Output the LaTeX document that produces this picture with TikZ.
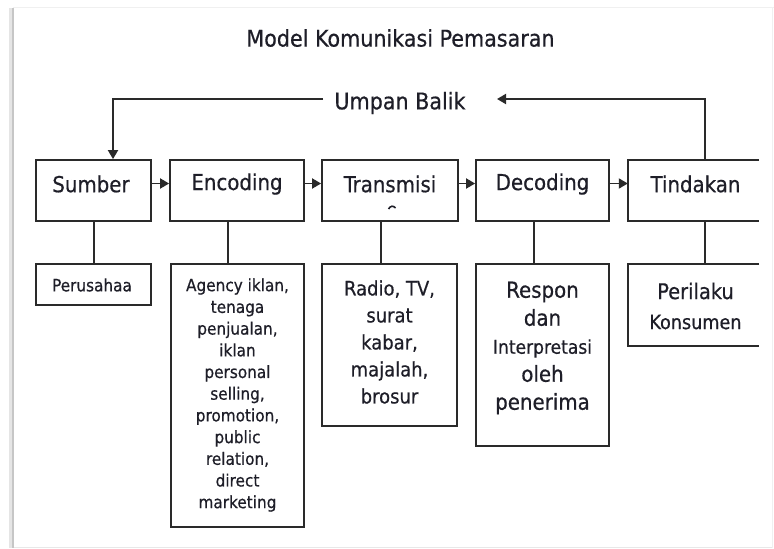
\documentclass[tikz,border=0pt]{standalone}
\usepackage{fontspec}
\setmainfont{DejaVu Sans Condensed}[FakeBold=0.5]
\usetikzlibrary{arrows.meta}
\definecolor{ink}{HTML}{2A2A2A}
\definecolor{txt}{HTML}{1E1E28}
\tikzset{
  box/.style={draw=ink, line width=1.8pt, inner sep=0pt},
  openbox/.style={draw=none, inner sep=0pt},
  lbl/.style={text=txt, inner sep=0pt, font=\fontsize{22}{26}\selectfont},
  sub/.style={text=txt, inner sep=0pt, align=center},
  conn/.style={draw=ink, line width=1.8pt},
  arr/.style={conn, -{Triangle[length=9pt,width=10pt]}},
}
\begin{document}
\begin{tikzpicture}[x=1pt,y=-1pt]
\useasboundingbox (0,0) rectangle (774,549);
% frame / shadow
\fill[white] (13,8) rectangle (772,548);
\draw[gray!12, line width=1pt] (13,7.5) -- (774,7.5);
\draw[gray!12, line width=1pt] (772.5,8) -- (772.5,548);
\draw[gray!18, line width=1pt] (13,547.5) -- (772,547.5);
\draw[gray!20, line width=4pt] (10.5,8) -- (10.5,548);
\draw[gray!45, line width=2pt] (12.5,8) -- (12.5,548);

% title
\node[lbl, font=\fontsize{23}{27}\selectfont] (title) at (400.5,38) {Model Komunikasi Pemasaran};

% main boxes
\node[box, minimum width=115, minimum height=61] (sumber) at (93.5,190.5) {};
\node[box, minimum width=134, minimum height=61] (encoding) at (237,190.5) {};
\node[box, minimum width=136, minimum height=61] (transmisi) at (390,190.5) {};
\node[box, minimum width=133, minimum height=61] (decoding) at (542.5,190.5) {};
\node[openbox, minimum width=131, minimum height=61] (tindakan) at (693.5,190.5) {};
\draw[conn] (tindakan.north east) -- (tindakan.north west) -- (tindakan.south west) -- (tindakan.south east);

\node[lbl] (sumberT) at (91,184) {Sumber};
\node[lbl] (encodingT) at (237,184) {Encoding};
\node[lbl] (transmisiT) at (390,184) {Transmisi};
\node[lbl] (decodingT) at (542.5,184) {Decoding};
\node[lbl] (tindakanT) at (695.5,184) {Tindakan};
\draw[txt, line width=1.6pt] (388.5,209) .. controls (390.5,205.5) and (393.5,205.5) .. (395.5,208);

% arrows between boxes
\draw[arr] ([yshift=7pt]sumber.east) -- ([yshift=7pt]encoding.west);
\draw[arr] ([yshift=7pt]encoding.east) -- ([yshift=7pt]transmisi.west);
\draw[arr] ([yshift=7pt]transmisi.east) -- ([yshift=7pt]decoding.west);
\draw[arr] ([yshift=7pt]decoding.east) -- ([yshift=7pt]tindakan.west);

% feedback
\node[lbl, font=\fontsize{23}{27}\selectfont] (umpan) at (400,103) {Umpan Balik};
\coordinate (fbR) at (705,99);
\coordinate (fbTip) at (497,99);
\coordinate (fbStart) at (323,99);
\coordinate (fbL) at (113,99);
\draw[arr] (tindakan.north -| fbR) -- (fbR) -- (fbTip);
\draw[arr] (fbStart) -- (fbL) -- (sumber.north -| fbL);

% sub boxes
\node[box, minimum width=115, minimum height=41] (perusahaan) at (93.5,284.5) {};
\node[box, minimum width=133, minimum height=263] (agency) at (237.5,395.5) {};
\node[box, minimum width=135, minimum height=162] (media) at (389.5,345) {};
\node[box, minimum width=133, minimum height=182] (respon) at (542.5,355) {};
\node[openbox, minimum width=131, minimum height=82] (perilaku) at (693.5,305) {};
\draw[conn] (perilaku.north east) -- (perilaku.north west) -- (perilaku.south west) -- (perilaku.south east);

\node[sub, font=\fontsize{17}{21.7}\selectfont] (perusahaanT) at (92,285) {Perusahaa};
\node[sub, font=\fontsize{17}{21.7}\selectfont] (agencyT) at (237.5,395) {Agency iklan,\\tenaga\\penjualan,\\iklan\\personal\\selling,\\promotion,\\public\\relation,\\direct\\marketing};
\node[sub, font=\fontsize{20}{27}\selectfont] (mediaT) at (389.5,342) {Radio, TV,\\surat\\kabar,\\majalah,\\brosur};
\node[sub, font=\fontsize{22}{28}\selectfont] (responT) at (542.5,348) {Respon\\dan\\{\fontsize{19}{28}\selectfont Interpretasi}\\oleh\\penerima};
\node[sub, font=\fontsize{21.6}{30}\selectfont] (perilakuT) at (695.5,306) {Perilaku\\{\fontsize{19.6}{30}\selectfont Konsumen}};

% vertical connectors
\coordinate (cS) at (94,0);
\coordinate (cE) at (228,0);
\coordinate (cT) at (381,0);
\coordinate (cD) at (534,0);
\coordinate (cK) at (705,0);
\draw[conn] (sumber.south -| cS) -- (perusahaan.north -| cS);
\draw[conn] (encoding.south -| cE) -- (agency.north -| cE);
\draw[conn] (transmisi.south -| cT) -- (media.north -| cT);
\draw[conn] (decoding.south -| cD) -- (respon.north -| cD);
\draw[conn] (tindakan.south -| cK) -- (perilaku.north -| cK);
\end{tikzpicture}
\end{document}
